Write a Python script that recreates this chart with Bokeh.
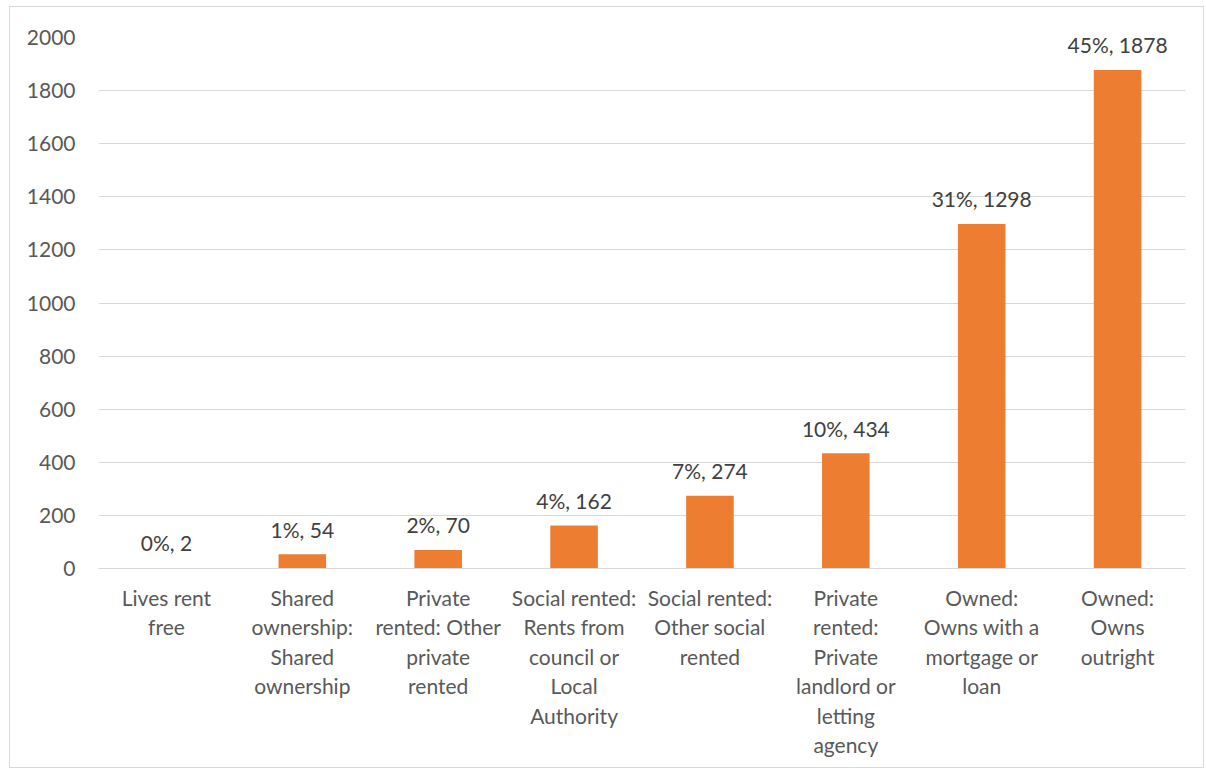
from bokeh.plotting import figure
from bokeh.models import ColumnDataSource, FactorRange, Range1d, SingleIntervalTicker
from bokeh.core.properties import value
from bokeh.embed import file_html
from bokeh.resources import INLINE

categories = [
    "Lives rent\nfree",
    "Shared\nownership:\nShared\nownership",
    "Private\nrented: Other\nprivate\nrented",
    "Social rented:\nRents from\ncouncil or\nLocal\nAuthority",
    "Social rented:\nOther social\nrented",
    "Private\nrented:\nPrivate\nlandlord or\nletting\nagency",
    "Owned:\nOwns with a\nmortgage or\nloan",
    "Owned:\nOwns\noutright",
]
counts = [2, 54, 70, 162, 274, 434, 1298, 1878]
percents = [0, 1, 2, 4, 7, 10, 31, 45]

labels = [f"{p}%, {c}" for p, c in zip(percents, counts)]
source = ColumnDataSource(dict(cat=categories, count=counts, label=labels))

FONT = "Lato"
FS = "21px"

p = figure(
    x_range=FactorRange(*categories, range_padding=0),
    y_range=Range1d(0, 2000),
    width=1195, height=762,
    output_backend="svg", toolbar_location=None,
    min_border_left=88, min_border_right=20,
    min_border_top=30, min_border_bottom=201,
)
p.styles = {"border": "1px solid #d9d9d9", "margin": "6px 0px 0px 9px"}
p.outline_line_color = None
p.background_fill_color = "white"
p.border_fill_color = "white"

p.vbar(x="cat", top="count", width=0.35, source=source,
       fill_color="#ED7D31", line_color=None)

p.text(x="cat", y="count", text="label", source=source,
       text_align="center", text_baseline="middle", y_offset=-25,
       text_font=value(FONT), text_font_size=FS, text_color="#404040")

# axes
p.yaxis.ticker = SingleIntervalTicker(interval=200)
p.yaxis.axis_line_color = None
p.yaxis.major_tick_line_color = None
p.yaxis.minor_tick_line_color = None
p.yaxis.major_label_text_font = FONT
p.yaxis.major_label_text_font_size = FS
p.yaxis.major_label_text_color = "#595959"
p.yaxis.major_label_standoff = 17

p.xaxis.axis_line_color = "#d9d9d9"
p.xaxis.major_tick_line_color = None
p.xaxis.minor_tick_line_color = None
p.xaxis.major_label_text_font = FONT
p.xaxis.major_label_text_font_size = FS
p.xaxis.major_label_text_color = "#595959"
p.xaxis.major_label_text_line_height = 1.18
p.xaxis.major_label_standoff = 10

p.xgrid.grid_line_color = None
p.ygrid.grid_line_color = "#d9d9d9"
p.ygrid.grid_line_width = 1

open("out.html", "w").write(file_html(p, INLINE))
